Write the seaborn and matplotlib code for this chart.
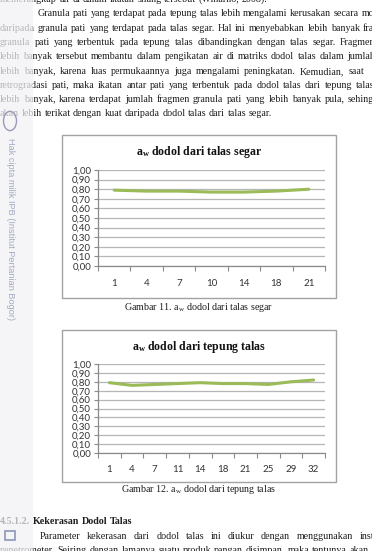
import numpy as np
import pandas as pd
import matplotlib
matplotlib.use('Agg')
import matplotlib.pyplot as plt
import seaborn as sns
from matplotlib.patches import Rectangle, Circle

# ---------------- data ----------------
hari_segar = ['1', '4', '7', '10', '14', '18', '21']
aw_segar = [0.79, 0.78, 0.78, 0.77, 0.77, 0.78, 0.80]

hari_tepung = ['1', '4', '7', '11', '14', '18', '21', '25', '29', '32']
aw_tepung = [0.79, 0.76, 0.77, 0.78, 0.79, 0.78, 0.78, 0.77, 0.80, 0.82]

y_ticks = [0.0, 0.1, 0.2, 0.3, 0.4, 0.5, 0.6, 0.7, 0.8, 0.9, 1.0]
y_tick_labels = ['0,00', '0,10', '0,20', '0,30', '0,40', '0,50',
                 '0,60', '0,70', '0,80', '0,90', '1,00']

title_1 = r'a$_\mathbf{w}$ dodol dari talas segar'
title_2 = r'a$_\mathbf{w}$ dodol dari tepung talas'
caption_1 = r'Gambar 11. a$_\mathrm{w}$ dodol dari talas segar'
caption_2 = r'Gambar 12. a$_\mathrm{w}$ dodol dari tepung talas'

# ---------------- setup ----------------
W, H = 372, 551
sns.set_theme(style='white')
plt.rcParams['font.family'] = ['Liberation Serif', 'DejaVu Serif']
plt.rcParams['mathtext.fontset'] = 'custom'
plt.rcParams['mathtext.rm'] = 'Liberation Serif'
plt.rcParams['mathtext.it'] = 'Liberation Serif:italic'
plt.rcParams['mathtext.bf'] = 'Liberation Serif:bold'

fig = plt.figure(figsize=(W / 100, H / 100), dpi=100)
fig.patch.set_facecolor('white')
renderer = fig.canvas.get_renderer()


def fx(px):
    return px / W


def fy(py):
    return 1 - py / H


TXT = '#1c1c1c'


def measure(s, fs, weight='normal'):
    t = fig.text(0, 0, s, fontsize=fs, fontweight=weight)
    w = t.get_window_extent(renderer).width
    t.remove()
    return w


def line(s, x0, y, fs, x1=None, weight='normal', color=TXT):
    """Draw a line of words; y is the visual centre of the line in px."""
    words = s.split(' ')
    widths = [measure(w, fs, weight) for w in words]
    if x1 is None or len(words) < 2:
        gap = measure('a a', fs, weight) - measure('aa', fs, weight)
    else:
        gap = (x1 - x0 - sum(widths)) / (len(words) - 1)
    x = x0
    base = y + 3.2
    for w, wd in zip(words, widths):
        fig.text(fx(x), fy(base), w, fontsize=fs, fontweight=weight,
                 color=color, ha='left', va='baseline')
        x += wd + gap


# body font size derived from the unjustified last line's width
last_line = 'akan lebih terikat dengan kuat daripada dodol talas dari talas segar.'
fs_body = 10 * 268 / measure(last_line, 10)

# ---------------- body text ----------------
line('memerangkap air di dalam ikatan silang tersebut (Winarno, 2008).', 0, -1, fs_body)
line('Granula pati yang terdapat pada tepung talas lebih mengalami kerusakan secara mo', 38, 13, fs_body, 374)
line('daripada granula pati yang terdapat pada talas segar. Hal ini menyebabkan lebih banyak fra', 0, 28, fs_body, 374)
line('granula pati yang terbentuk pada tepung talas dibandingkan dengan talas segar. Fragmen', 0, 42, fs_body, 375)
line('lebih banyak tersebut membantu dalam pengikatan air di matriks dodol talas dalam jumlah', 0, 56, fs_body, 375)
line('lebih banyak, karena luas permukaannya juga mengalami peningkatan. Kemudian, saat', 0, 71, fs_body, 364)
line('retrogradasi pati, maka ikatan antar pati yang terbentuk pada dodol talas dari tepung talas', 0, 85, fs_body, 374)
line('lebih banyak, karena terdapat jumlah fragmen granula pati yang lebih banyak pula, sehing', 0, 99, fs_body, 374)
line(last_line, 0, 113, fs_body)

line('4.5.1.2. Kekerasan Dodol Talas', 0, 521, fs_body, weight='bold')
line('Parameter kekerasan dari dodol talas ini diukur dengan menggunakan inst', 40, 536, fs_body, 374)
line('penetrometer. Seiring dengan lamanya suatu produk pangan disimpan, maka tentunya akan', 0, 550, fs_body, 369)


# ---------------- charts ----------------
def chart(hari, aw, box, plot, title, title_y, caption, caption_y):
    bx0, by0, bx1, by1 = box
    fig.add_artist(Rectangle((fx(bx0), fy(by1)), (bx1 - bx0) / W, (by1 - by0) / H,
                             transform=fig.transFigure, fill=False,
                             ec='#a3a3a3', lw=1.0))
    px0, py0, px1, py1 = plot
    ax = fig.add_axes([fx(px0), fy(py1), (px1 - px0) / W, (py1 - py0) / H])
    ax.set_facecolor('none')
    df = pd.DataFrame({'hari': hari, 'aw': aw})
    sns.lineplot(data=df, x='hari', y='aw', ax=ax, color='#9bbb59',
                 lw=2.2, sort=False, zorder=3)
    n = len(hari)
    ax.set_xlim(-0.5, n - 0.5)
    ax.set_ylim(0, 1)
    ax.set_yticks(y_ticks)
    ax.set_yticklabels(y_tick_labels, family='Lato', fontsize=7, color='#333333')
    ax.set_xticks(range(n))
    ax.set_xticklabels(hari, family='Lato', fontsize=7, color='#333333')
    ax.set_xticks(np.arange(-0.5, n, 1.0), minor=True)
    ax.tick_params(axis='x', which='major', length=0, pad=9)
    ax.tick_params(axis='x', which='minor', length=3.5, width=0.8,
                   color='#8a8a8a', direction='out', bottom=True)
    ax.tick_params(axis='y', which='major', length=3, width=0.8,
                   color='#8a8a8a', direction='out', left=True, pad=2)
    ax.grid(axis='y', color='#b5b5b5', lw=0.9)
    ax.grid(axis='x', visible=False)
    for s in ['top', 'right']:
        ax.spines[s].set_visible(False)
    for s in ['left', 'bottom']:
        ax.spines[s].set_color('#8a8a8a')
        ax.spines[s].set_linewidth(0.9)
    ax.set_xlabel('')
    ax.set_ylabel('')
    fig.text(fx((bx0 + bx1) / 2), fy(title_y), title, fontsize=8.6,
             fontweight='bold', ha='center', va='center', color='#111111')
    fig.text(fx(199), fy(caption_y), caption, fontsize=fs_body,
             ha='center', va='center', color=TXT)
    return ax


chart(hari_segar, aw_segar, (62, 135, 336, 298), (98, 170, 325, 266),
      title_1, 152, caption_1, 308)
chart(hari_tepung, aw_tepung, (62, 330, 336, 482), (98, 364, 325, 453),
      title_2, 347, caption_2, 490)

# ---------------- left margin watermark band ----------------
fig.add_artist(Rectangle((0, 0), 33 / W, 1, transform=fig.transFigure,
                         facecolor='#f2f2f5', alpha=0.72, ec='none', zorder=10))
fig.text(fx(10), fy(229), 'Hak cipta milik IPB (Institut Pertanian Bogor)',
         rotation=270, ha='center', va='center', fontsize=6.6,
         family='Liberation Sans', color='#a3abc3', zorder=11)
fig.add_artist(Circle((fx(10), fy(121)), 6.5 / W, transform=fig.transFigure,
                      fill=False, ec='#9a9ab8', lw=1.0, zorder=11))
fig.add_artist(Rectangle((fx(5), fy(540)), 10 / W, 9 / H, transform=fig.transFigure,
                         fill=False, ec='#8c98b8', lw=1.2, zorder=11))

fig.savefig('out.png', dpi=100, facecolor='white')
